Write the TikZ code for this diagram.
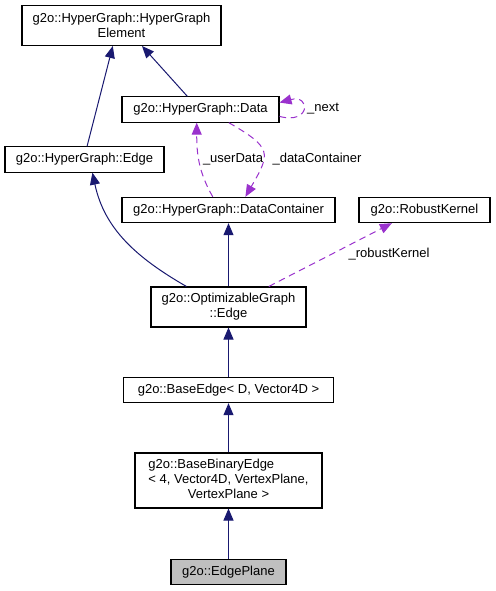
\documentclass[tikz,border=0pt]{standalone}
\usepackage{fontspec}
\setmainfont{Liberation Sans}
\usetikzlibrary{arrows.meta}
\definecolor{edgenavy}{HTML}{191970}
\definecolor{memberpurple}{HTML}{9A32CD}

\begin{document}
\begin{tikzpicture}[x=0.75pt,y=0.75pt,
                    font=\fontsize{9.75}{11.25}\selectfont,
                    class node/.style={rectangle,draw,line width=0.8pt,minimum height=19pt,inner sep=2pt},
                    inherit edge/.style={draw=edgenavy,line width=0.75pt,-{Triangle[length=9pt,width=7.5pt]}},
                    member edge/.style={draw=memberpurple,line width=0.75pt,dash pattern=on 5pt off 3.5pt,
                                        -{Triangle[length=9pt,width=7.5pt]}}
                   ]
  \useasboundingbox (0,0) rectangle (495,591);

  \node[class node,minimum width=149.25pt,minimum height=30pt,align=center] (element) at (121.5,565.5)
       {g2o::HyperGraph::HyperGraph\\Element};
  \node[class node,minimum width=117.75pt] (data) at (200.5,481.5) {g2o::HyperGraph::Data};
  \node[class node,minimum width=119.25pt] (hgedge) at (84.5,431.5) {g2o::HyperGraph::Edge};
  \node[class node,minimum width=159.75pt] (datacontainer) at (228.5,381) {g2o::HyperGraph::DataContainer};
  \node[class node,minimum width=98.25pt] (robustkernel) at (424.5,381) {g2o::RobustKernel};
  \node[class node,minimum width=116.25pt,minimum height=30pt,align=center] (optedge) at (228.5,284)
       {g2o::OptimizableGraph\\::Edge};
  \node[class node,minimum width=157.5pt] (baseedge) at (228.5,201) {g2o::BaseEdge< D, Vector4D >};
  \node[class node,minimum width=140.25pt,minimum height=41.25pt] (basebinaryedge) at (228.5,110.5)
       {\begin{tabular}{@{}l@{}}g2o::BaseBinaryEdge\\< 4, Vector4D, VertexPlane,\\
        \multicolumn{1}{@{}c@{}}{VertexPlane >}\end{tabular}};
  \node[class node,minimum width=86.25pt,fill=gray!50] (edgeplane) at (228.5,19) {g2o::EdgePlane};

  % member labels
  \node (userlbl) at (233,432) {\_userData};
  \node (containerlbl) at (317,432) {\_dataContainer};
  \node (nextlbl) at (323,482) {\_next};
  \node (kernellbl) at (389,337) {\_robustKernel};

  \path%
   (hgedge.79) edge [inherit edge] (element.247)
   (data.135) edge [inherit edge] (element.315)
   (optedge) edge [inherit edge] (datacontainer)
   (optedge.154) edge [inherit edge,out=150,in=-78] (hgedge.301)
   (baseedge) edge [inherit edge] (optedge)
   (basebinaryedge) edge [inherit edge] (baseedge)
   (edgeplane) edge [inherit edge] (basebinaryedge);

  \path%
   (datacontainer.140) edge [member edge,out=120,in=-90] (data.254)
   (data.335) edge [member edge,out=-30,in=60,looseness=1.7] (datacontainer.38)
   (data.-5) edge [member edge,out=-15,in=15,looseness=6] (data.5)
   (optedge.27) edge [member edge] (robustkernel.202);
\end{tikzpicture}
\end{document}
